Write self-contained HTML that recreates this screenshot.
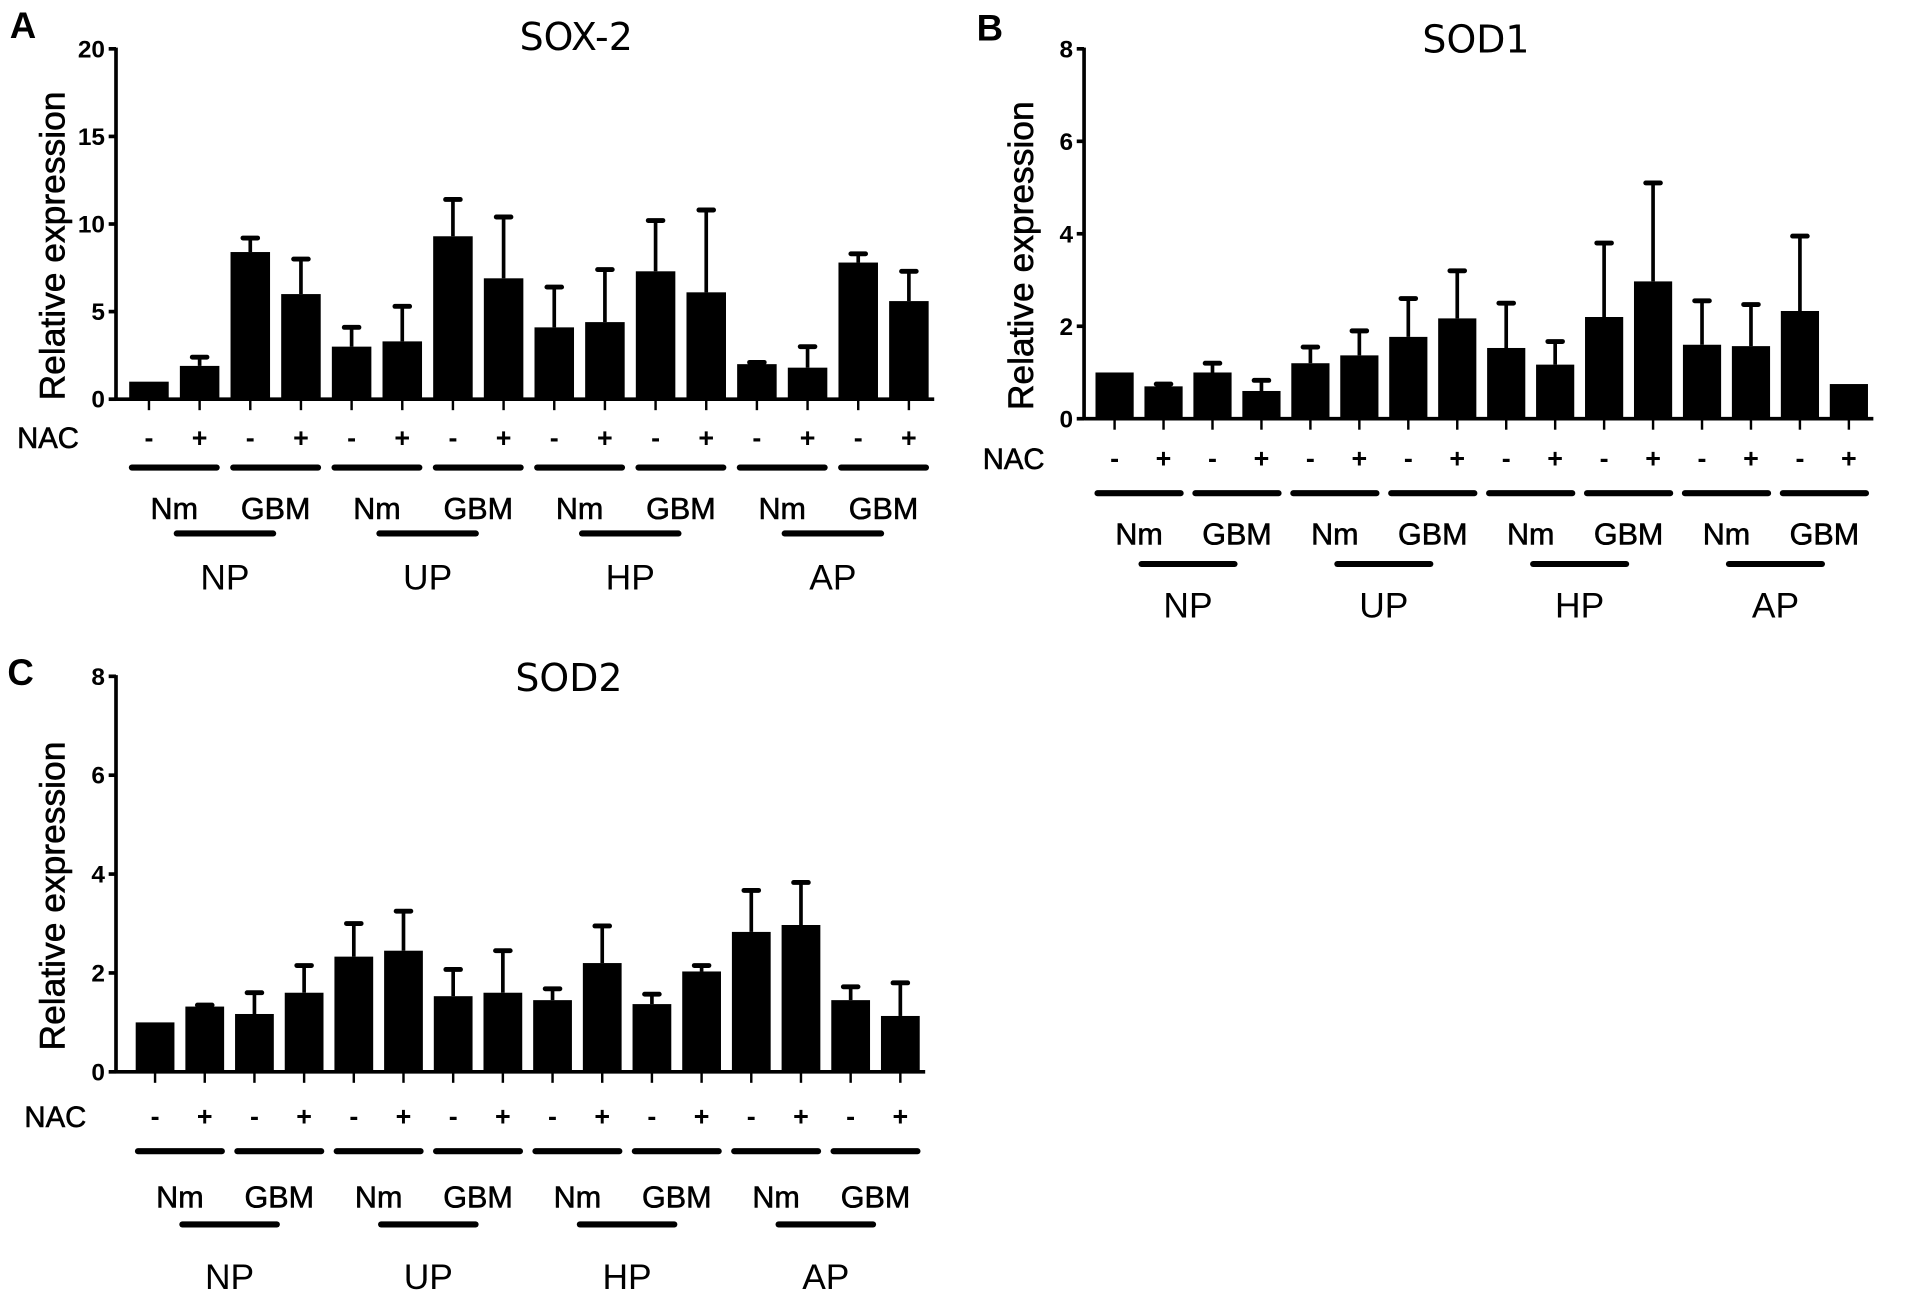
<!DOCTYPE html>
<html><head><meta charset="utf-8"><style>
html,body{margin:0;padding:0;background:#fff;}
svg{display:block;font-family:"Liberation Sans",sans-serif;}
.bold{stroke:#000;stroke-width:0.5;}
</style></head><body>
<svg id="fig" width="1913" height="1305" viewBox="0 0 1567 1069"></svg>
<script>
const categories = ["NP Nm -","NP Nm +","NP GBM -","NP GBM +","UP Nm -","UP Nm +","UP GBM -","UP GBM +","HP Nm -","HP Nm +","HP GBM -","HP GBM +","AP Nm -","AP Nm +","AP GBM -","AP GBM +"];
const groups = ["NP","UP","HP","AP"];
const sox2Values = [1.0,1.9,8.4,6.0,3.0,3.3,9.3,6.9,4.1,4.4,7.3,6.1,2.0,1.8,7.8,5.6];
const sox2Errors = [0,0.5,0.8,2.0,1.1,2.0,2.1,3.5,2.3,3.0,2.9,4.7,0.1,1.2,0.5,1.7];
const sod1Values = [1.0,0.7,1.0,0.6,1.2,1.37,1.77,2.17,1.53,1.17,2.2,2.97,1.6,1.57,2.33,0.75];
const sod1Errors = [0,0.05,0.2,0.23,0.35,0.53,0.83,1.03,0.97,0.5,1.6,2.13,0.95,0.9,1.62,0];
const sod2Values = [1.0,1.32,1.17,1.6,2.33,2.45,1.53,1.6,1.45,2.2,1.37,2.03,2.83,2.97,1.45,1.13];
const sod2Errors = [0,0.03,0.43,0.55,0.67,0.8,0.54,0.85,0.23,0.75,0.2,0.12,0.84,0.86,0.27,0.67];
const sox2Ticks = [0,5,10,15,20];
const sodTicks = [0,2,4,6,8];

const NS="http://www.w3.org/2000/svg";
const svg=document.getElementById('fig');
function mk(tag,attrs,parent){const e=document.createElementNS(NS,tag);for(const k in attrs)e.setAttribute(k,attrs[k]);(parent||svg).appendChild(e);return e;}
function txt(s,attrs,parent){const e=mk('text',attrs,parent);e.textContent=s;return e;}

function panel(cfg){
  const g=mk('g',{});
  
  
  const yS=v=>cfg.y0-(v/cfg.max)*(cfg.y0-cfg.yTop);
  const xS=i=>cfg.x1+i*cfg.dx;
  const L=txt(cfg.letter,{x:cfg.lx,y:cfg.ly,'font-size':30,'font-weight':'bold'},g);
  
  
  const T=txt(cfg.title,{x:cfg.tx,y:cfg.ty,'font-size':31,'text-anchor':'middle','font-family':'DejaVu Sans, sans-serif'},g);
  
  
  const yl=txt('Relative expression',{transform:`translate(${cfg.ax-42},${(cfg.y0+cfg.yTop)/2+18}) rotate(-90)`,'font-size':29,'text-anchor':'middle','class':'bold'},g);
  
  
  const ya=mk('line',{x1:cfg.ax,y1:cfg.yTop-1,x2:cfg.ax,y2:cfg.y0+1,stroke:'#000','stroke-width':3},g);
  
  
  cfg.ticks.forEach(t=>{
    const y=yS(t);
    mk('line',{x1:cfg.ax-6,y1:y,x2:cfg.ax,y2:y,stroke:'#000','stroke-width':3},g);
    const tl=txt(String(t),{x:cfg.ax-9,y:y+7,'font-size':20,'font-weight':'bold','text-anchor':'end'},g);
    
    
  });
  const xa=mk('line',{x1:cfg.ax,y1:cfg.y0,x2:xS(15)+cfg.dx/2,y2:cfg.y0,stroke:'#000','stroke-width':3},g);
  
  
  const bw=cfg.dx*0.78;
  cfg.values.forEach((v,i)=>{
    const x=xS(i);
    const top=v+cfg.errors[i];
    if(cfg.errors[i]>0){
      const e=mk('line',{x1:x,y1:yS(top),x2:x,y2:yS(v),stroke:'#000','stroke-width':3},g);
      
      
      mk('line',{x1:x-6,y1:yS(top),x2:x+6,y2:yS(top),stroke:'#000','stroke-width':4,'stroke-linecap':'round'},g);
    }
    const b=mk('rect',{x:x-bw/2,y:yS(v),width:bw,height:cfg.y0-yS(v),fill:'#000'},g);
    
    
    mk('line',{x1:x,y1:cfg.y0,x2:x,y2:cfg.y0+9,stroke:'#000','stroke-width':2},g);
    const s=txt(i%2? '+':'-',{x:x,y:cfg.nacY+8,'font-size':22,'font-weight':'bold','text-anchor':'middle'},g);
    
    
  });
  const nac=txt('NAC',{x:cfg.nacX,y:cfg.nacY+9,'font-size':24,'class':'bold'},g);
  
  
  for(let p=0;p<8;p++){
    const xa1=xS(2*p)-14, xa2=xS(2*p+1)+14, xc=(xS(2*p)+xS(2*p+1))/2;
    const ln=mk('line',{x1:xa1,y1:cfg.lineY,x2:xa2,y2:cfg.lineY,stroke:'#000','stroke-width':5,'stroke-linecap':'round'},g);
    
    
    const t=txt(p%2?'GBM':'Nm',{x:xc,y:cfg.cellY+9,'font-size':25,'text-anchor':'middle','class':'bold'},g);
    
    
  }
  groups.forEach((gn,k)=>{
    const c1=(xS(4*k)+xS(4*k+1))/2, c2=(xS(4*k+2)+xS(4*k+3))/2;
    const ln=mk('line',{x1:c1+2,y1:cfg.grpLineY,x2:c2-2,y2:cfg.grpLineY,stroke:'#000','stroke-width':5,'stroke-linecap':'round'},g);
    
    
    const t=txt(gn,{x:(c1+c2)/2,y:cfg.grpY+11,'font-size':29,'text-anchor':'middle'},g);
    
    
  });
}

panel({letter:'A',lx:8,ly:31,title:'SOX-2',tx:472,ty:41,ax:95,y0:327,yTop:40,max:20,ticks:sox2Ticks,
  x1:122,dx:41.5,values:sox2Values,errors:sox2Errors,nacX:14,nacY:358,lineY:383,cellY:416,grpLineY:437,grpY:472});
panel({letter:'B',lx:800,ly:33,title:'SOD1',tx:1209,ty:43,ax:888,y0:343,yTop:40,max:8,ticks:sodTicks,
  x1:913,dx:40.1,values:sod1Values,errors:sod1Errors,nacX:805,nacY:375,lineY:404,cellY:437,grpLineY:462,grpY:495});
panel({letter:'C',lx:6,ly:561,title:'SOD2',tx:466,ty:566,ax:95,y0:878,yTop:554,max:8,ticks:sodTicks,
  x1:127,dx:40.7,values:sod2Values,errors:sod2Errors,nacX:20,nacY:914,lineY:943,cellY:980,grpLineY:1003,grpY:1045});
</script>
</body></html>
